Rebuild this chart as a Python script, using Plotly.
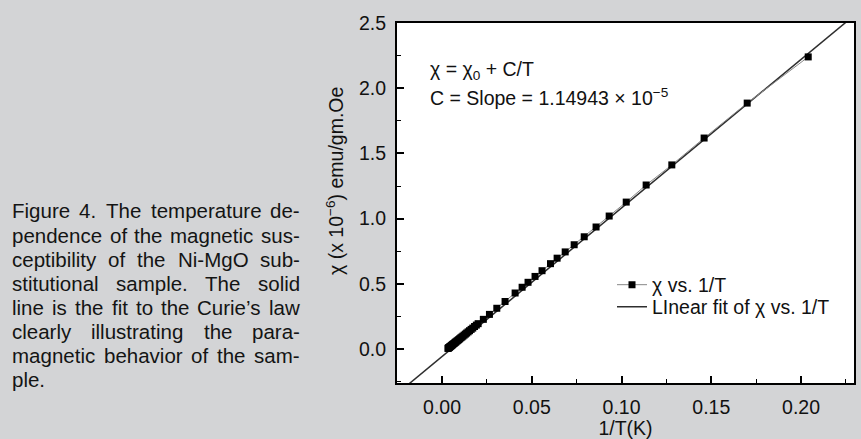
import plotly.graph_objects as go
import numpy as np

# ---------------- data ----------------
inv_T = [0.0033, 0.0035, 0.0037, 0.0039, 0.0041, 0.0043, 0.0046, 0.0049, 0.0052, 0.0055,
         0.0058, 0.0062, 0.0066, 0.0070, 0.0074, 0.0078, 0.0083, 0.0088, 0.0093, 0.0098,
         0.0104, 0.0110, 0.0116, 0.0123, 0.0130, 0.0137, 0.0145, 0.0153, 0.0162, 0.0171,
         0.0181, 0.0191, 0.0201, 0.0230, 0.0264, 0.0305, 0.0351, 0.0407, 0.0446, 0.0479,
         0.0518, 0.0557, 0.0604, 0.0641, 0.0686, 0.0736, 0.0792, 0.0858, 0.0931, 0.1026,
         0.1137, 0.1280, 0.1460, 0.1700, 0.2040]
chi = [0.005, 0.008, 0.010, 0.012, 0.014, 0.017, 0.020, 0.023, 0.027, 0.030,
       0.034, 0.038, 0.043, 0.047, 0.052, 0.056, 0.062, 0.067, 0.073, 0.079,
       0.086, 0.092, 0.099, 0.107, 0.115, 0.123, 0.132, 0.141, 0.151, 0.161,
       0.173, 0.184, 0.195, 0.228, 0.266, 0.313, 0.365, 0.430, 0.474, 0.512,
       0.557, 0.601, 0.655, 0.697, 0.745, 0.800, 0.861, 0.936, 1.020, 1.127,
       1.258, 1.412, 1.618, 1.886, 2.240]
fit_slope = 11.39
fit_intercept = -0.057

x_tickvals = [0.00, 0.05, 0.10, 0.15, 0.20]
x_ticktext = ["0.00", "0.05", "0.10", "0.15", "0.20"]
x_minor = [0.025, 0.075, 0.125, 0.175, 0.225]
y_tickvals = [0.0, 0.5, 1.0, 1.5, 2.0, 2.5]
y_ticktext = ["0.0", "0.5", "1.0", "1.5", "2.0", "2.5"]
y_minor = [-0.25, 0.25, 0.75, 1.25, 1.75, 2.25]

caption_lines = [
    "Figure 4. The temperature de-",
    "pendence of the magnetic sus-",
    "ceptibility of the Ni-MgO sub-",
    "stitutional sample. The solid",
    "line is the fit to the Curie\u2019s law",
    "clearly illustrating the para-",
    "magnetic behavior of the sam-",
    "ple.",
]

# ---------------- layout helpers ----------------
W, H = 861, 439
L, R, T, B = 397, 854, 23, 383
def px(x):
    return (x - L) / (R - L)
def py(y):
    return (B - y) / (B - T)

SANS = "Liberation Sans, Arial, Helvetica, sans-serif"
CHART_FS = 19.5
TXT = "#111111"

fig = go.Figure()

x_fit = np.array([-0.03, 0.24])
fig.add_trace(go.Scatter(
    x=x_fit, y=fit_slope * x_fit + fit_intercept, mode="lines",
    line=dict(color="#2e2e2e", width=1.5),
    name="LInear fit of \u03c7 vs. 1/T", legend="legend2"))
fig.add_trace(go.Scatter(
    x=inv_T, y=chi, mode="lines+markers",
    line=dict(color="#888888", width=1),
    marker=dict(symbol="square", size=7, color="#000000"),
    name="\u03c7 vs. 1/T", legend="legend"))

annotations = []
annotations.append(dict(x=px(428), y=py(71), xref="paper", yref="paper", xanchor="left",
                        yanchor="middle", showarrow=False,
                        text="\u03c7 = \u03c7<sub>0</sub> + C/T",
                        font=dict(family=SANS, size=CHART_FS, color=TXT)))
annotations.append(dict(x=px(428), y=py(97), xref="paper", yref="paper", xanchor="left",
                        yanchor="middle", showarrow=False,
                        text="C = Slope = 1.14943 \u00d7 10<sup>\u22125</sup>",
                        font=dict(family=SANS, size=CHART_FS, color=TXT)))
annotations.append(dict(x=px(335), y=py(181), xref="paper", yref="paper", xanchor="center",
                        yanchor="middle", showarrow=False, textangle=-90,
                        text="\u03c7 (x 10<sup>\u22126</sup>) emu/gm.Oe",
                        font=dict(family=SANS, size=CHART_FS, color=TXT)))

# caption, justified word by word (Arial metrics)
AW = {' ': 278, 'a': 556, 'b': 556, 'c': 500, 'd': 556, 'e': 556, 'f': 278, 'g': 556, 'h': 556,
      'i': 222, 'j': 222, 'k': 500, 'l': 222, 'm': 833, 'n': 556, 'o': 556, 'p': 556, 'q': 556,
      'r': 333, 's': 500, 't': 278, 'u': 556, 'v': 500, 'w': 722, 'x': 500, 'y': 500, 'z': 500,
      'F': 611, 'T': 611, 'N': 722, 'M': 833, 'O': 778, 'C': 722, '4': 556, '.': 278, '-': 333,
      '\u2019': 222}
CAP_FS = 20.5
def wlen(s):
    return sum(AW.get(c, 556) for c in s) * CAP_FS / 1000.0
cap_left, cap_right = 11, 299
for i, line in enumerate(caption_lines):
    ycen = 211 + 24 * i
    words = line.split(" ")
    if i == len(caption_lines) - 1 or len(words) == 1:
        annotations.append(dict(x=px(cap_left), y=py(ycen), xref="paper", yref="paper",
                                xanchor="left", yanchor="middle", showarrow=False, text=line,
                                borderpad=0, font=dict(family=SANS, size=CAP_FS, color="#141414")))
        continue
    total = sum(wlen(w) for w in words)
    gap = (cap_right - cap_left - total) / (len(words) - 1)
    xpos = cap_left
    for w in words:
        annotations.append(dict(x=px(xpos), y=py(ycen), xref="paper", yref="paper",
                                xanchor="left", yanchor="middle", showarrow=False, text=w,
                                borderpad=0, font=dict(family=SANS, size=CAP_FS, color="#141414")))
        xpos += wlen(w) + gap

axis_common = dict(showline=True, linewidth=2, linecolor="#000", mirror=True,
                   ticks="inside", ticklen=7, tickwidth=1.5, tickcolor="#000",
                   showgrid=False, zeroline=False,
                   tickfont=dict(family=SANS, size=CHART_FS, color=TXT))

fig.update_layout(
    width=W, height=H,
    margin=dict(l=L, r=W - R, t=T, b=H - B, pad=0, autoexpand=False),
    paper_bgcolor="#d3d4d6", plot_bgcolor="#ffffff",
    xaxis=dict(range=[-0.0251, 0.2295], tickmode="array", tickvals=x_tickvals,
               ticktext=x_ticktext, ticklabelstandoff=6,
               minor=dict(tickmode="array", tickvals=x_minor, ticks="inside",
                          ticklen=4, tickwidth=1.2, tickcolor="#000"),
               title=dict(text="1/T(K)", standoff=4,
                          font=dict(family=SANS, size=CHART_FS, color=TXT)),
               **axis_common),
    yaxis=dict(range=[-0.26, 2.5], tickmode="array", tickvals=y_tickvals,
               ticktext=y_ticktext, ticklabelstandoff=5,
               minor=dict(tickmode="array", tickvals=y_minor, ticks="inside",
                          ticklen=4, tickwidth=1.2, tickcolor="#000"),
               **axis_common),
    legend=dict(x=px(612), y=py(285), xanchor="left", yanchor="middle",
                bgcolor="rgba(0,0,0,0)", font=dict(family=SANS, size=CHART_FS, color=TXT)),
    legend2=dict(x=px(612), y=py(307), xanchor="left", yanchor="middle",
                 bgcolor="rgba(0,0,0,0)", font=dict(family=SANS, size=CHART_FS, color=TXT)),
    showlegend=True,
    annotations=annotations,
)

fig.write_html("out.html")
